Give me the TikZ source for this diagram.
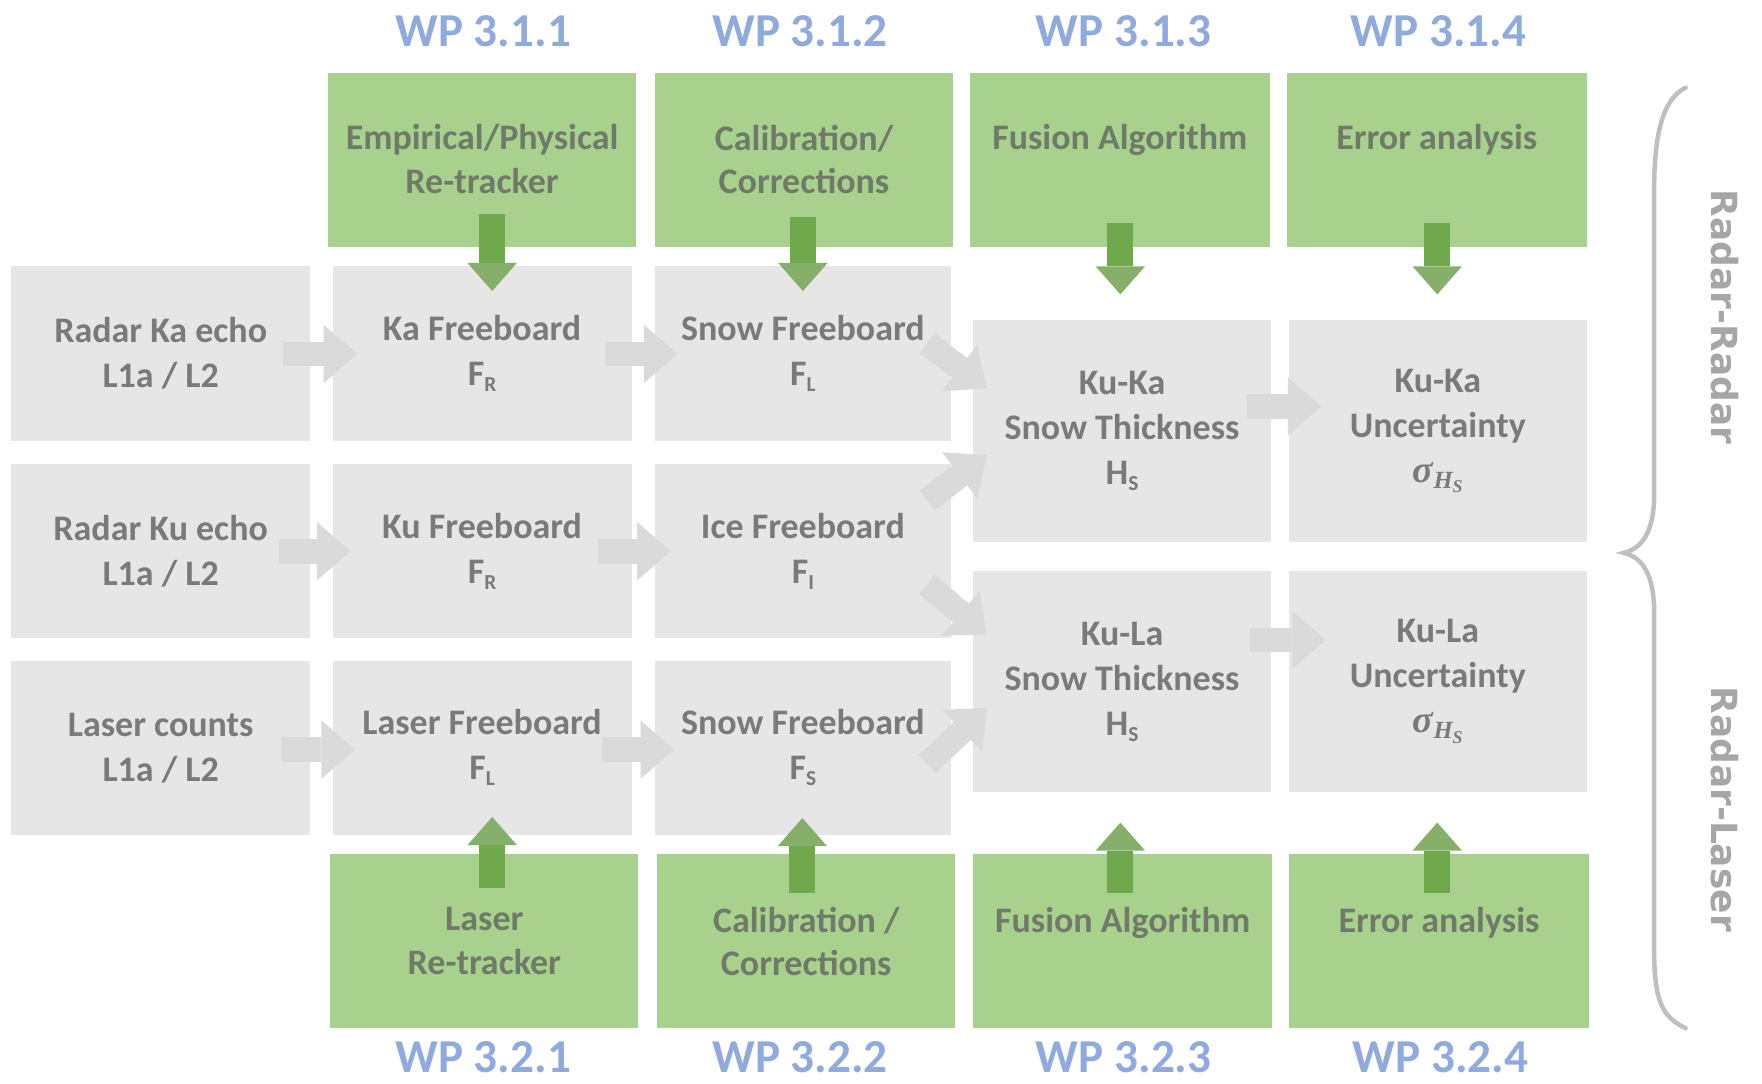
\documentclass[tikz,border=0pt]{standalone}
\usepackage{fontspec}
\setmainfont{Carlito}
\newfontfamily\dejavu{DejaVu Sans}
\newfontfamily\serifmath{Liberation Serif}
\usetikzlibrary{arrows.meta,calc}
\definecolor{boxgray}{HTML}{E7E6E6}
\definecolor{boxgreen}{HTML}{A9D18E}
\definecolor{txtgray}{HTML}{7A7A7A}
\definecolor{gtxt}{HTML}{6F7B68}
\definecolor{wpblue}{HTML}{8FAADC}
\definecolor{arrgray}{HTML}{DADADA}
\definecolor{arrgreen}{HTML}{70A84C}
\definecolor{arrgreenlt}{HTML}{86B069}
\definecolor{bracegray}{HTML}{BFBFBF}
\definecolor{radgray}{HTML}{A6A6A6}
\newcommand{\subsc}[1]{\raisebox{-0.35ex}{\fontsize{19}{19}\selectfont #1}}
\newcommand{\sigHS}{{\serifmath\bfseries\itshape\fontsize{34}{40}\selectfont σ\raisebox{-0.35ex}{\fontsize{22}{22}\selectfont H\raisebox{-0.4ex}{\fontsize{16}{16}\selectfont S}}}}
\begin{document}
\begin{tikzpicture}[x=1pt,y=-1pt,
  every node/.style={inner sep=0pt, outer sep=0pt},
  graybox/.style={fill=boxgray, minimum height=155pt, align=center, text=txtgray,
    font=\bfseries\fontsize{32}{40}\selectfont},
  bigbox/.style={graybox, minimum height=197pt, minimum width=265pt},
  greenbox/.style={fill=boxgreen, minimum height=155pt},
  gtext/.style={anchor=north, align=center, text=gtxt, font=\bfseries\fontsize{32}{39}\selectfont},
  wp/.style={text=wpblue, font=\bfseries\fontsize{42}{50}\selectfont},
  grayarrow/.style={draw=arrgray, line width=22pt,
    -{Triangle[length=30pt,width=52pt,line width=0pt,color=arrgray,fill=arrgray]}},
  greenarrow/.style={draw=arrgreen, line width=23pt,
    -{Triangle[length=25pt,width=44pt,line width=0pt,color=arrgreenlt,fill=arrgreenlt]}},
  radar/.style={text=radgray, font=\dejavu\bfseries\fontsize{32}{38}\selectfont, rotate=-90},
]
\useasboundingbox (0,0) rectangle (1568,964);
\fill[white] (0,0) rectangle (1568,964);

% WP labels
\node[wp] (wpa1) at (430,28) {WP 3.1.1};
\node[wp] (wpa2) at (712,28) {WP 3.1.2};
\node[wp] (wpa3) at (1000,28) {WP 3.1.3};
\node[wp] (wpa4) at (1280,28) {WP 3.1.4};
\node[wp] (wpb1) at (430,941) {WP 3.2.1};
\node[wp] (wpb2) at (712,941) {WP 3.2.2};
\node[wp] (wpb3) at (1000,941) {WP 3.2.3};
\node[wp] (wpb4) at (1282,941) {WP 3.2.4};

% green boxes top
\node[greenbox, minimum width=274pt] (g1) at (429,142.5) {};
\node[greenbox, minimum width=265pt] (g2) at (715.5,142.5) {};
\node[greenbox, minimum width=267pt] (g3) at (996.5,142.5) {};
\node[greenbox, minimum width=267pt] (g4) at (1278.5,142.5) {};
\node[gtext] (g1t) at ($(g1.north)+(0,46)$) {Empirical/Physical\\Re-tracker};
\node[gtext] (g2t) at ($(g2.north)+(0,46)$) {Calibration/\\Corrections};
\node[gtext] (g3t) at ($(g3.north)+(0,46)$) {Fusion Algorithm};
\node[gtext] (g4t) at ($(g4.north)+(0,46)$) {Error analysis};

% green boxes bottom
\node[greenbox, minimum width=274pt] (b1) at (431,837.5) {};
\node[greenbox, minimum width=265pt] (b2) at (717.5,837.5) {};
\node[greenbox, minimum width=266pt] (b3) at (999,837.5) {};
\node[greenbox, minimum width=267pt] (b4) at (1280.5,837.5) {};
\node[gtext] (b1t) at ($(b1.north)+(0,47)$) {Laser\\Re-tracker};
\node[gtext] (b2t) at ($(b2.north)+(0,47)$) {Calibration /\\Corrections};
\node[gtext] (b3t) at ($(b3.north)+(0,47)$) {Fusion Algorithm};
\node[gtext] (b4t) at ($(b4.north)+(0,47)$) {Error analysis};

% gray boxes
\node[graybox, minimum width=266pt] (in1) at (143,314.5) {Radar Ka echo\\L1a / L2};
\node[graybox, minimum width=266pt] (in2) at (143,490.5) {Radar Ku echo\\L1a / L2};
\node[graybox, minimum width=266pt] (in3) at (143,665.5) {Laser counts\\L1a / L2};
\node[graybox, minimum width=266pt] (fb1) at (429,314.5) {Ka Freeboard\\F\subsc{R}};
\node[graybox, minimum width=266pt] (fb2) at (429,490.5) {Ku Freeboard\\F\subsc{R}};
\node[graybox, minimum width=266pt] (fb3) at (429,665.5) {Laser Freeboard\\F\subsc{L}};
\node[graybox, minimum width=263pt] (sf1) at (714.5,314.5) {Snow Freeboard\\F\subsc{L}};
\node[graybox, minimum width=263pt] (if2) at (714.5,490.5) {Ice Freeboard\\F\subsc{I}};
\node[graybox, minimum width=263pt] (sf3) at (714.5,665.5) {Snow Freeboard\\F\subsc{S}};
\node[bigbox] (kuka) at (998.5,383.5) {Ku-Ka\\Snow Thickness\\H\subsc{S}};
\node[bigbox] (kula) at (998.5,606.5) {Ku-La\\Snow Thickness\\H\subsc{S}};
\node[bigbox] (unka) at (1279.5,383.5) {Ku-Ka\\Uncertainty\\\sigHS};
\node[bigbox] (unla) at (1279.5,606.5) {Ku-La\\Uncertainty\\\sigHS};

% gray arrows
\draw[grayarrow] ($(in1.east)+(-24,0.5)$) -- ($(fb1.west)+(22,0.5)$);
\draw[grayarrow] ($(fb1.east)+(-24,0.5)$) -- ($(sf1.west)+(20,0.5)$);
\draw[grayarrow] ($(in2.east)+(-28,0)$) -- ($(fb2.west)+(16,0)$);
\draw[grayarrow] ($(fb2.east)+(-30,0)$) -- ($(if2.west)+(14,0)$);
\draw[grayarrow] ($(in3.east)+(-26,1.5)$) -- ($(fb3.west)+(20,1.5)$);
\draw[grayarrow] ($(fb3.east)+(-26,1.5)$) -- ($(sf3.west)+(17,1.5)$);
\draw[grayarrow] ($(sf1.east)+(-21,-9)$) -- ($(kuka.west)+(12,-38)$);
\draw[grayarrow] ($(if2.east)+(-21,-45)$) -- ($(kuka.west)+(12,21.5)$);
\draw[grayarrow] ($(if2.east)+(-21,29.5)$) -- ($(kula.west)+(12,-41.5)$);
\draw[grayarrow] ($(sf3.east)+(-21,14.5)$) -- ($(kula.west)+(12,23.5)$);
\draw[grayarrow] ($(kuka.east)+(-21,-22)$) -- ($(unka.west)+(29,-22)$);
\draw[grayarrow] ($(kula.east)+(-19,-37)$) -- ($(unla.west)+(33,-37)$);

% green arrows
\draw[greenarrow] ($(g1.south)+(9,-30)$) -- ($(fb1.north)+(9,22)$);
\draw[greenarrow] ($(g2.south)+(-1,-27)$) -- ($(sf1.north)+(0,22)$);
\draw[greenarrow] ($(g3.south)+(0.5,-22)$) -- ($(kuka.north)+(-1.5,-23)$);
\draw[greenarrow] ($(g4.south)+(0.5,-22)$) -- ($(unka.north)+(-0.5,-23)$);
\draw[greenarrow] ($(b1.north)+(7,30)$) -- ($(fb3.south)+(9,-16)$);
\draw[greenarrow] ($(b2.north)+(-3.5,35)$) -- ($(sf3.south)+(-0.5,-15)$);
\draw[greenarrow] ($(b3.north)+(-2,35)$) -- ($(kula.south)+(-1.5,27)$);
\draw[greenarrow] ($(b4.north)+(-1.5,35)$) -- ($(unla.south)+(-0.5,27)$);

% brace
\draw[bracegray, line width=4pt, line cap=round]
  (1500,78) .. controls (1480,88) and (1472,118) .. (1472,170)
  -- (1472,440) .. controls (1472,472) and (1462,488) .. (1445,492)
  .. controls (1462,496) and (1472,512) .. (1472,545)
  -- (1472,845) .. controls (1472,893) and (1480,905) .. (1500,915);

\node[radar] (rr) at (1535,282) {Radar-Radar};
\node[radar] (rl) at (1535,720) {Radar-Laser};
\end{tikzpicture}
\end{document}
